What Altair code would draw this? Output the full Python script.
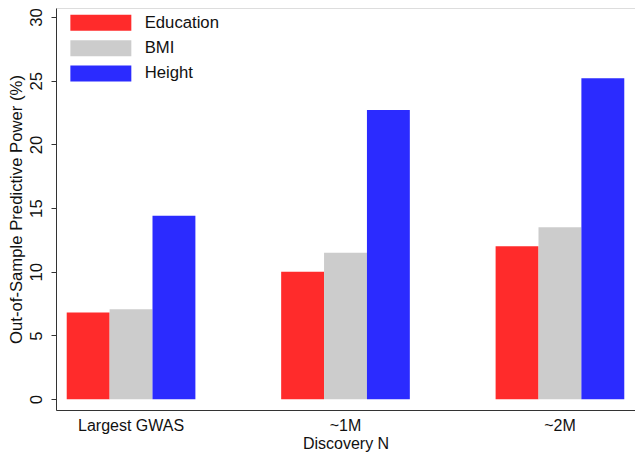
import altair as alt
import pandas as pd

groups = ["Largest GWAS", "~1M", "~2M"]
series = ["Education", "BMI", "Height"]
education = [6.8, 10.0, 12.0]
bmi = [7.05, 11.5, 13.5]
height = [14.4, 22.7, 25.2]
colors = ["#ff2b2b", "#cccccc", "#2b2bff"]

rows = []
for i, g in enumerate(groups):
    rows.append({"group": g, "series": "Education", "value": education[i]})
    rows.append({"group": g, "series": "BMI", "value": bmi[i]})
    rows.append({"group": g, "series": "Height", "value": height[i]})
df = pd.DataFrame(rows)

FONT = "Liberation Sans"
TXT = "#111111"
FS = 16.7
FSX = 16

chart = alt.Chart(df).mark_bar(stroke=None).encode(
    x=alt.X("group:N", sort=groups,
            scale=alt.Scale(paddingInner=0.4, paddingOuter=0.05),
            axis=alt.Axis(title="Discovery N", labelAngle=0, ticks=False,
                          labelPadding=7, titlePadding=2, labelFontSize=FSX,
                          titleFontSize=FSX, titleFontWeight="normal",
                          labelColor=TXT, titleColor=TXT,
                          domainColor="#333333")),
    xOffset=alt.XOffset("series:N", sort=series),
    y=alt.Y("value:Q", scale=alt.Scale(domain=[-0.85, 30.71], nice=False, zero=False),
            axis=alt.Axis(title="Out-of-Sample Predictive Power (%)",
                          values=[0, 5, 10, 15, 20, 25, 30], grid=False,
                          labelAngle=270, labelAlign="center", labelBaseline="bottom",
                          tickSize=5, labelPadding=6, titlePadding=3,
                          labelFontSize=FS, titleFontSize=FS, titleFontWeight="normal",
                          labelColor=TXT, titleColor=TXT,
                          domainColor="#333333", tickColor="#333333")),
    y2=alt.datum(0),
    color=alt.Color("series:N", sort=series,
                    scale=alt.Scale(domain=series, range=colors),
                    legend=alt.Legend(title=None, orient="none", legendX=36.5, legendY=6.5,
                                      symbolType="M-3.81,-1H3.81V1H-3.81Z",
                                      symbolSize=256, symbolStrokeWidth=0,
                                      labelFontSize=FS, labelOffset=35.5,
                                      labelColor=TXT, rowPadding=7.3)),
).properties(
    width=579, height=402,
    autosize=alt.AutoSizeParams(type="none"),
    padding={"left": 48, "top": 0, "right": 0, "bottom": 42},
).configure_view(stroke=None).configure(font=FONT)

chart.save("out.html", embed_options={"renderer": "svg", "actions": False})
